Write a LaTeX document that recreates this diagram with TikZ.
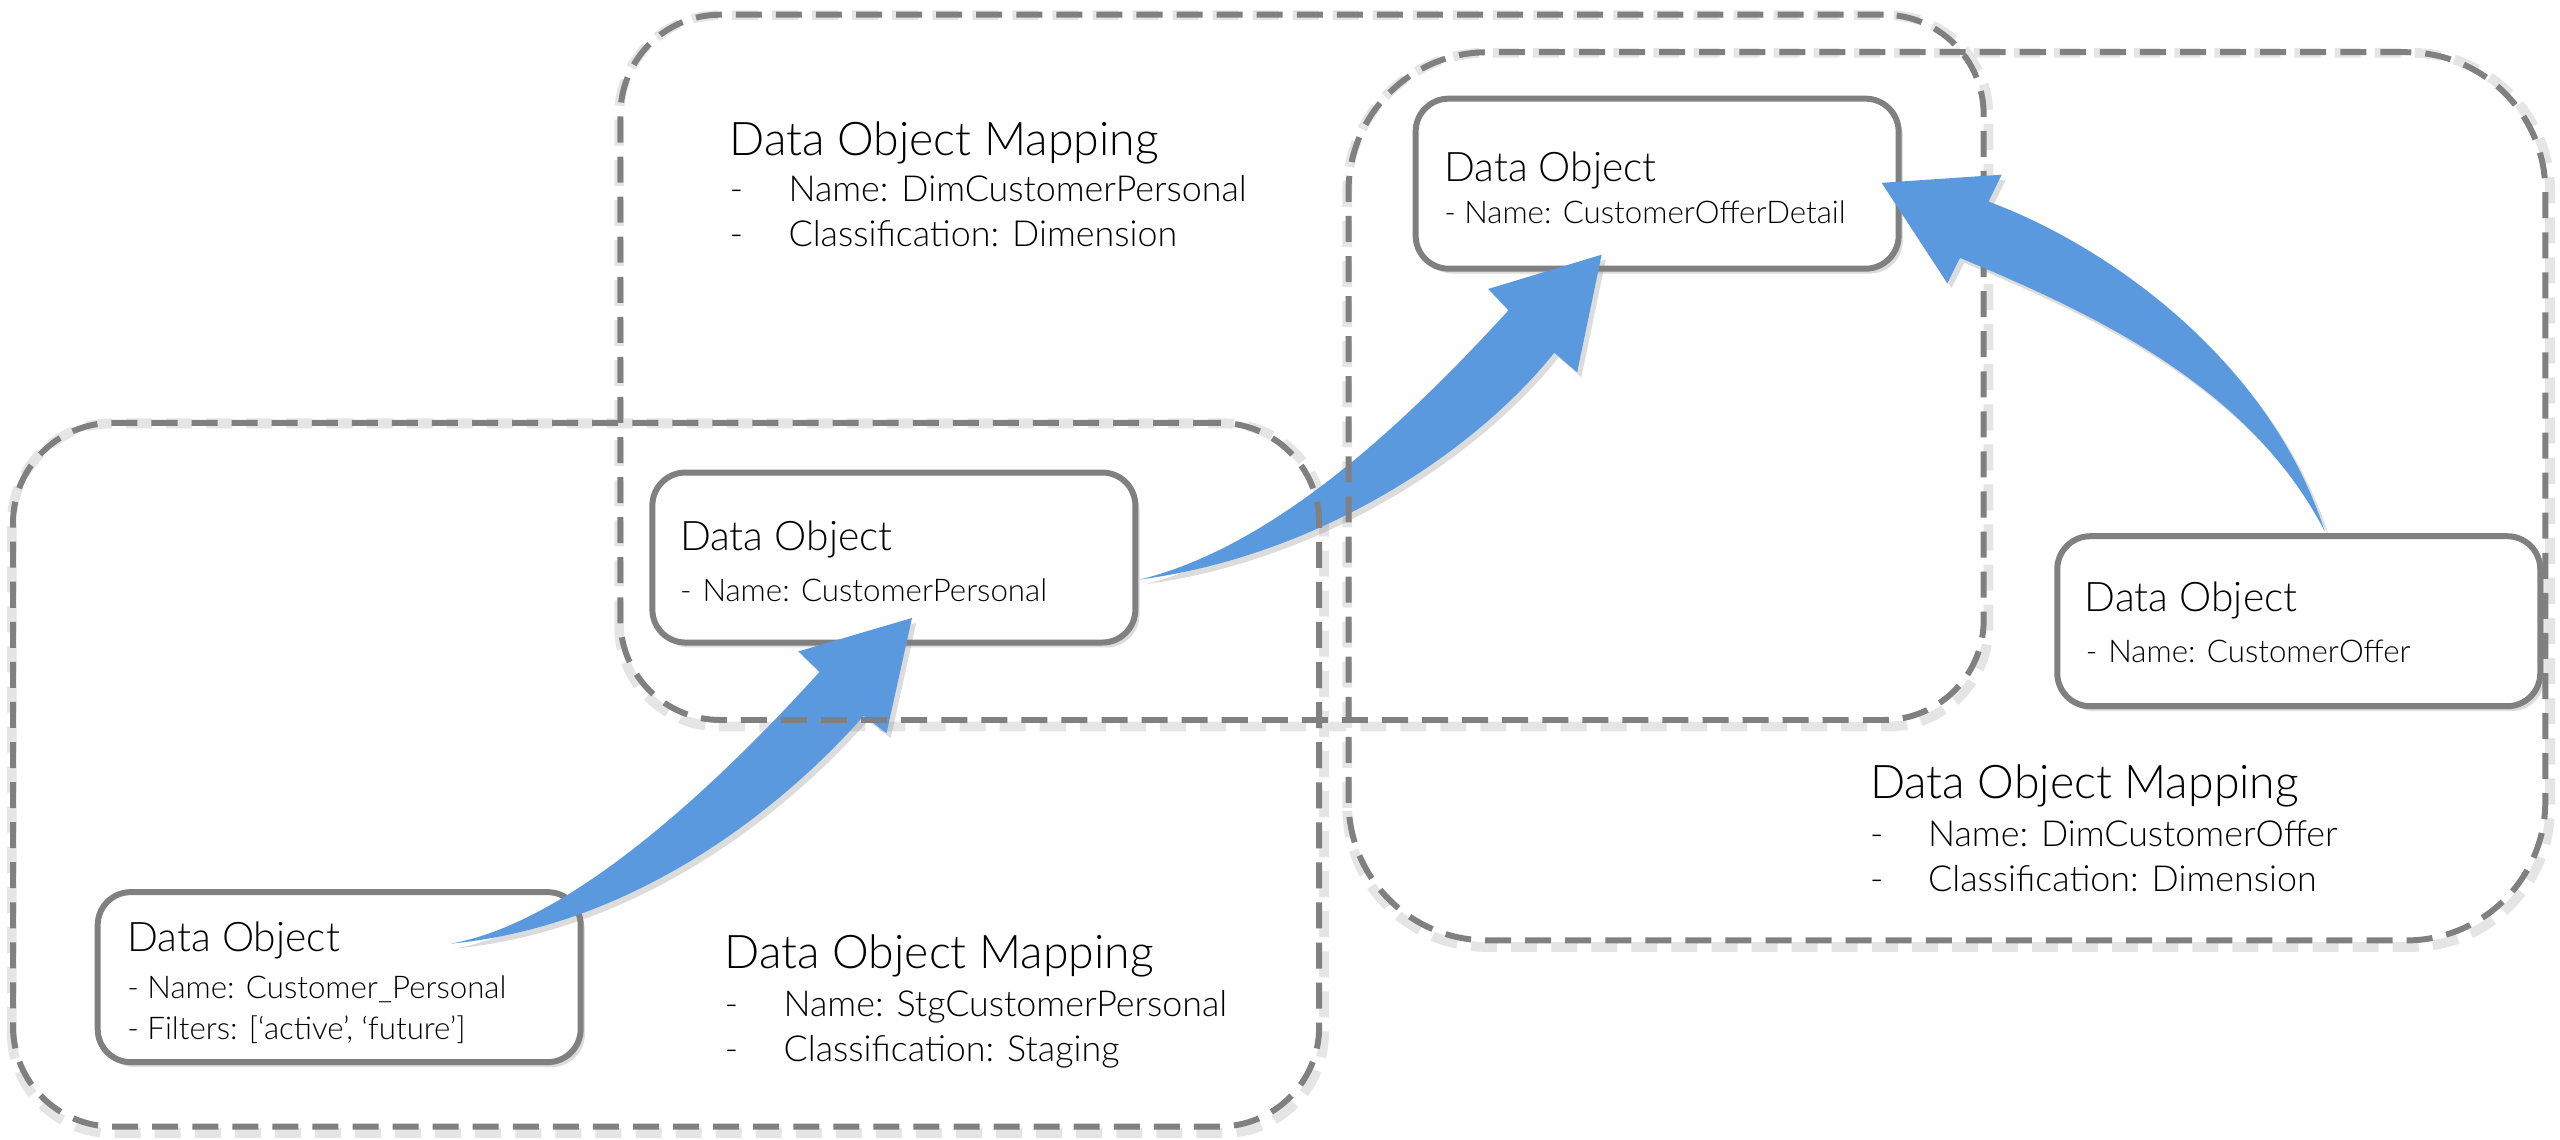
\documentclass[tikz,border=0pt]{standalone}
\usepackage{fontspec}
\setmainfont{Lato Light}
\usetikzlibrary{shadows}
\definecolor{boxgray}{RGB}{128,128,128}
\definecolor{arrowblue}{RGB}{91,153,223}
\pgfdeclarelayer{bg}
\pgfsetlayers{bg,main}
\tikzset{
  dobox/.style={draw=boxgray, line width=1.7pt, rounded corners=0.33cm, fill=white,
    minimum width=4.83cm, minimum height=1.70cm, inner sep=0pt,
    drop shadow={shadow xshift=1.2pt, shadow yshift=-1.4pt, opacity=0.28}},
  mapbox/.style={draw=boxgray, line width=1.7pt, dash pattern=on 7.4pt off 4pt,
    rounded corners=1.0cm, inner sep=0pt},
  mapshadow/.style={draw=black!10, line width=2.8pt, dash pattern=on 7.4pt off 4pt},
  flow/.style={fill=arrowblue, draw=none,
    drop shadow={shadow xshift=1.2pt, shadow yshift=-1.4pt, opacity=0.28}},
  ttl/.style={anchor=base west, inner sep=0pt, outer sep=0pt, font=\fontsize{11.6}{14}\selectfont},
  sub/.style={anchor=base west, inner sep=0pt, outer sep=0pt, font=\fontsize{8.9}{10}\selectfont},
  mttl/.style={anchor=base west, inner sep=0pt, outer sep=0pt, font=\fontsize{13.2}{15}\selectfont},
  mline/.style={anchor=base west, inner sep=0pt, outer sep=0pt, font=\fontsize{10.2}{12}\selectfont},
}
\begin{document}
\begin{tikzpicture}[x=0.016327cm, y=-0.016327cm]
\useasboundingbox (0,0) rectangle (1568,698.25);

% solid data object boxes
\node[dobox] (A) at (207.75,598.5) {};
\node[dobox] (B) at (547.5,341.5) {};
\node[dobox] (C) at (1015,112.5) {};
\node[dobox] (D) at (1408,380.5) {};

% texts of boxes
\node[ttl] (Atitle) at (78,583) {Data Object};
\node[sub] (Aname) at (78,611.4) {- Name: Customer\_Personal};
\node[sub] (Afilt) at (78,637) {- Filters: [‘active’, ‘future’]};

\node[ttl] (Btitle) at (416.5,337) {Data Object};
\node[sub] (Bname) at (416.5,368.5) {-\hspace{0.35em}Name: CustomerPersonal};

\node[ttl] (Ctitle) at (884.6,111.3) {Data Object};
\node[sub] (Cname) at (884.6,136.7) {- Name: CustomerOfferDetail};

\node[ttl] (Dtitle) at (1277,374.6) {Data Object};
\node[sub] (Dname) at (1277.6,406) {-\hspace{0.35em}Name: CustomerOffer};

% mapping texts
\node[mttl] (M1title) at (444,593) {Data Object Mapping};
\node[mline] (M1d1) at (444,622.7) {-};
\node[mline] (M1l1) at (480,622.7) {Name: StgCustomerPersonal};
\node[mline] (M1d2) at (444,650) {-};
\node[mline] (M1l2) at (480,650) {Classification: Staging};

\node[mttl] (M2title) at (447,95) {Data Object Mapping};
\node[mline] (M2d1) at (447,123.5) {-};
\node[mline] (M2l1) at (483,123.5) {Name: DimCustomerPersonal};
\node[mline] (M2d2) at (447,151) {-};
\node[mline] (M2l2) at (483,151) {Classification: Dimension};

\node[mttl] (M3title) at (1145.4,488.8) {Data Object Mapping};
\node[mline] (M3d1) at (1145.4,518.5) {-};
\node[mline] (M3l1) at (1181,518.5) {Name: DimCustomerOffer};
\node[mline] (M3d2) at (1145.4,546) {-};
\node[mline] (M3l2) at (1181,546) {Classification: Dimension};

% flow arrows A -> B and B -> C
\coordinate (t1) at (276,578);
\coordinate (p1) at (558.6,378.5);
\fill[flow] (t1) .. controls (350,565) and (440,480) .. (502,411.5)
  -- (489,399) -- (p1) -- (543,449) -- (529,438.5)
  .. controls (470,505) and (380,568) .. (t1) -- cycle;

\coordinate (t2) at (698,355);
\coordinate (p2) at (981,156);
\fill[flow] (t2) .. controls (780,335) and (860,260) .. (924,190)
  -- (911.5,177) -- (p2) -- (966,228) -- (952,216)
  .. controls (905,275) and (810,340) .. (t2) -- cycle;

% dashed mapping areas
\node[mapbox] (M1) at (408,474.5) [minimum width=13.062cm, minimum height=7.037cm] {};
\node[mapbox] (M2) at (797.5,225) [minimum width=13.633cm, minimum height=7.053cm] {};
\node[mapbox, rounded corners=1.39cm] (M3) at (1192.5,304) [minimum width=11.968cm, minimum height=8.882cm] {};

% soft shadows of the dashed areas
\begin{pgfonlayer}{bg}
\draw[mapshadow, rounded corners=1.0cm] ([shift={(0.5pt,-1.0pt)}]M1.south west) rectangle ([shift={(0.5pt,-1.0pt)}]M1.north east);
\draw[mapshadow, rounded corners=1.0cm] ([shift={(0.5pt,-1.0pt)}]M2.south west) rectangle ([shift={(0.5pt,-1.0pt)}]M2.north east);
\draw[mapshadow, rounded corners=1.39cm] ([shift={(0.5pt,-1.0pt)}]M3.south west) rectangle ([shift={(0.5pt,-1.0pt)}]M3.north east);
\end{pgfonlayer}

% flow arrow D -> C
\coordinate (t3) at (1424,325.7);
\coordinate (p3) at (1152.5,112);
\fill[flow] (t3) .. controls (1380,240) and (1290,195) .. (1200.5,158)
  -- (1192.7,173.5) -- (p3) -- (1226,107) -- (1218,123.5)
  .. controls (1290,150) and (1390,220) .. (t3) -- cycle;
\end{tikzpicture}
\end{document}
